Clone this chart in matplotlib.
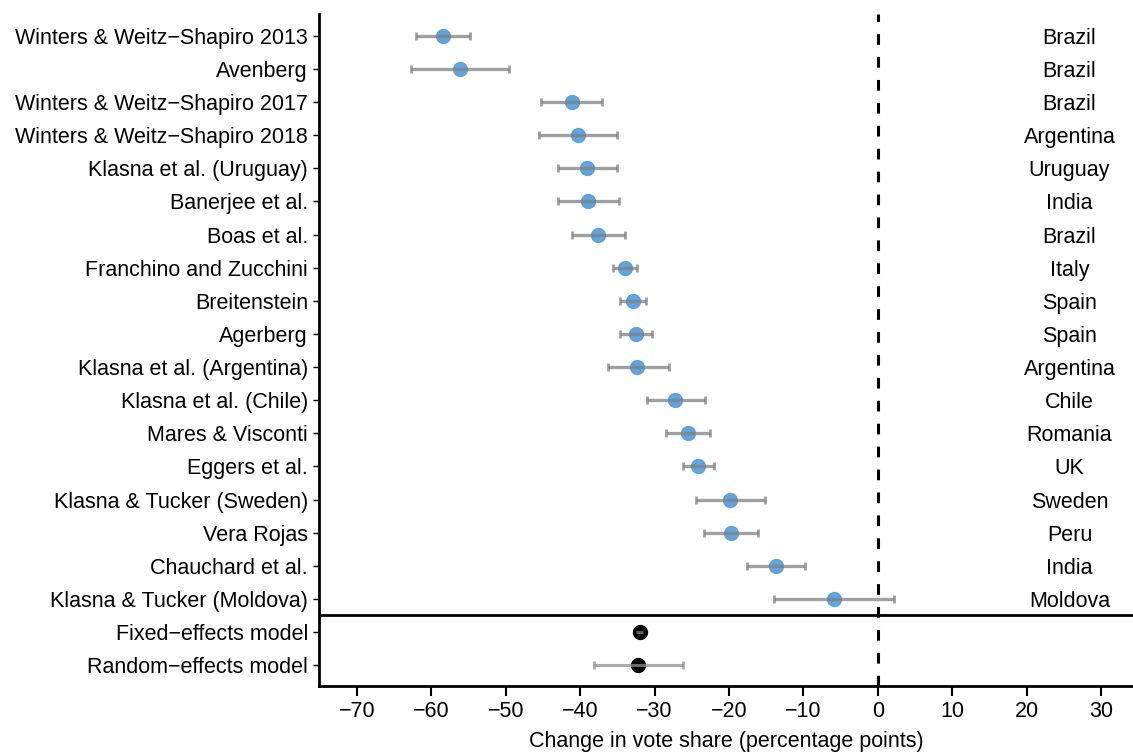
import matplotlib
matplotlib.use("Agg")
import matplotlib.pyplot as plt
import numpy as np

plt.rcParams['font.family'] = ['Liberation Sans', 'DejaVu Sans']

studies = ["Winters & Weitz\u2212Shapiro 2013", "Avenberg", "Winters & Weitz\u2212Shapiro 2017",
           "Winters & Weitz\u2212Shapiro 2018", "Klasna et al. (Uruguay)", "Banerjee et al.",
           "Boas et al.", "Franchino and Zucchini", "Breitenstein", "Agerberg",
           "Klasna et al. (Argentina)", "Klasna et al. (Chile)", "Mares & Visconti",
           "Eggers et al.", "Klasna & Tucker (Sweden)", "Vera Rojas", "Chauchard et al.",
           "Klasna & Tucker (Moldova)"]
countries = ["Brazil", "Brazil", "Brazil", "Argentina", "Uruguay", "India", "Brazil", "Italy",
             "Spain", "Spain", "Argentina", "Chile", "Romania", "UK", "Sweden", "Peru",
             "India", "Moldova"]
estimates = [-58.4, -56.2, -41.1, -40.3, -39.1, -38.9, -37.6, -34.0, -32.9, -32.5,
             -32.3, -27.2, -25.5, -24.1, -19.8, -19.7, -13.7, -5.9]
lower = [-62.0, -62.7, -45.3, -45.5, -43.0, -43.0, -41.1, -35.6, -34.7, -34.7,
         -36.3, -31.0, -28.5, -26.2, -24.4, -23.3, -17.6, -14.0]
upper = [-54.8, -49.6, -37.0, -35.1, -35.1, -34.8, -34.0, -32.3, -31.1, -30.4,
         -28.1, -23.2, -22.5, -22.0, -15.2, -16.1, -9.8, 2.2]

models = ["Fixed\u2212effects model", "Random\u2212effects model"]
model_est = [-32.0, -32.2]
model_lower = [-32.5, -38.2]
model_upper = [-31.5, -26.2]

xticks = [-70, -60, -50, -40, -30, -20, -10, 0, 10, 20, 30]

FS = 15.5

fig = plt.figure(figsize=(11.33, 7.55), dpi=100)
ax = fig.add_axes([319/1133, 1 - 686/755, (1133 - 319)/1133, (686 - 14)/755])

n = len(studies)
ys = np.arange(n)
my = np.arange(n, n + len(models))

est = np.array(estimates)
lo = np.array(lower)
hi = np.array(upper)
ax.plot(est, ys, 'o', color='#5b9fd9', markersize=10, zorder=2, alpha=0.95)
ax.errorbar(est, ys, xerr=[est - lo, hi - est], fmt='none', ecolor='#808080',
            elinewidth=2.4, capsize=3, capthick=2, alpha=0.75, zorder=3)

me = np.array(model_est)
mlo = np.array(model_lower)
mhi = np.array(model_upper)
ax.plot(me, my, 'o', color='black', markersize=10, zorder=2)
ax.errorbar(me[1:], my[1:], xerr=[me[1:] - mlo[1:], mhi[1:] - me[1:]], fmt='none',
            ecolor='#909090', elinewidth=2.2, capsize=3, capthick=2, alpha=0.75, zorder=3)
ax.errorbar(me[:1], my[:1], xerr=[me[:1] - mlo[:1], mhi[:1] - me[:1]], fmt='none',
            ecolor='#808080', elinewidth=2.2, capsize=0, alpha=0.75, zorder=3)

for y, c in zip(ys, countries):
    ax.text(0.922, y, c, transform=ax.get_yaxis_transform(), ha='center',
            va='center_baseline', fontsize=FS)

ax.axvline(0, color='black', linestyle=(0, (3.5, 4)), linewidth=2.2, zorder=1)
ax.axhline(n - 0.5, color='black', linewidth=2)

ax.set_yticks(list(ys) + list(my))
ax.set_yticklabels(studies + models, fontsize=FS)
ax.set_ylim(n + len(models) - 1 + 0.63, -0.66)
ax.set_xlim(-75.1, 34.3)
ax.set_xticks(xticks)
ax.set_xticklabels([f"\u2212{abs(t)}" if t < 0 else str(t) for t in xticks], fontsize=FS)
ax.set_xlabel("Change in vote share (percentage points)", fontsize=FS, labelpad=6)

for s in ['top', 'right']:
    ax.spines[s].set_visible(False)
for s in ['left', 'bottom']:
    ax.spines[s].set_linewidth(2)
ax.tick_params(axis='x', length=7, width=1.5, pad=4)
ax.tick_params(axis='y', length=4, width=1, pad=4)

fig.savefig("out.png", dpi=100)
